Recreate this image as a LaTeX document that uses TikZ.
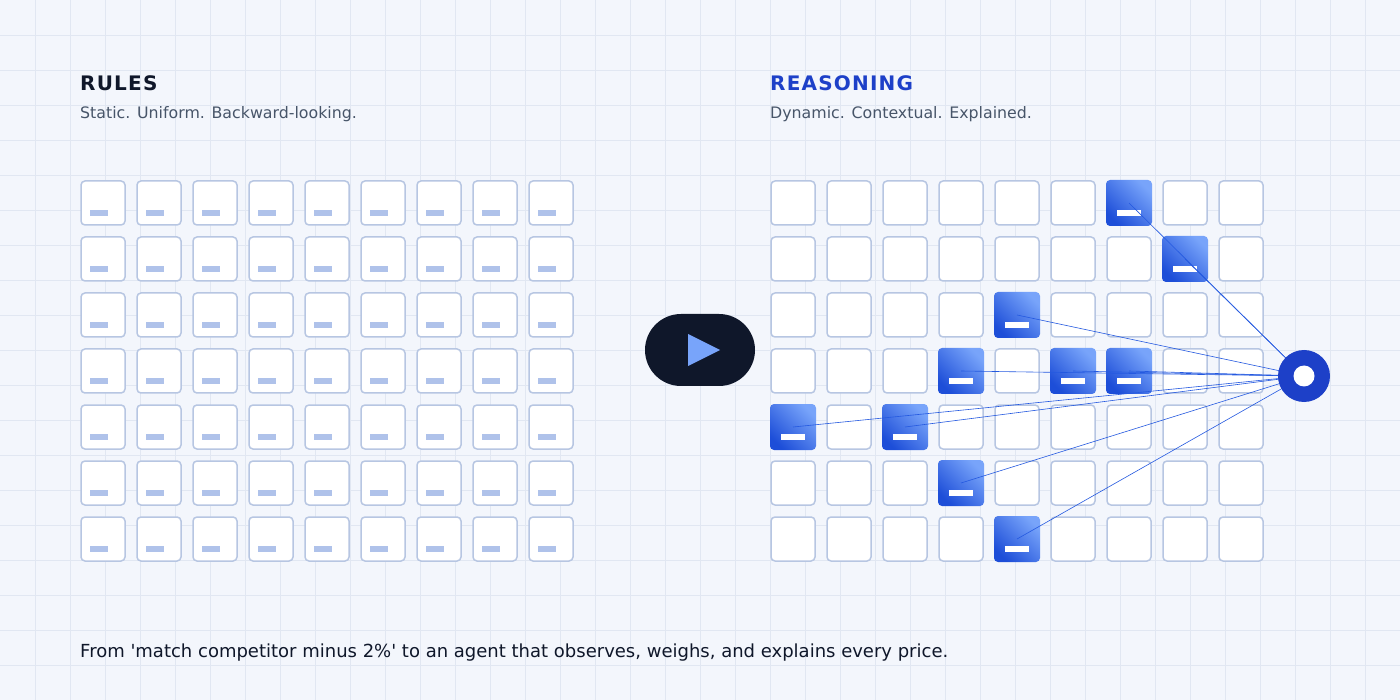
\documentclass[tikz,border=0pt]{standalone}
\usepackage{fontspec}
\setmainfont{DejaVu Sans}
\newfontfamily\plainfont{DejaVu Sans}
\begin{document}
\begin{tikzpicture}[x=1pt,y=-1pt,
 cell/.style={draw=cellb,line width=1.5pt,fill=white,rounded corners=4pt},
 hot/.style={rounded corners=4pt,left color=hotl,right color=hotd,shading angle=-45},
 conn/.style={draw=linec,line width=0.6pt},
 ttl/.style={anchor=base west,font=\bfseries\fontsize{20}{24}\selectfont\addfontfeatures{LetterSpace=6},inner sep=0},
 sbt/.style={anchor=base west,font=\fontsize{15.8}{18}\selectfont,text=sub,inner sep=0}]
\definecolor{bg}{HTML}{F3F6FC}
\definecolor{gridc}{HTML}{E1E7F2}
\definecolor{cellb}{HTML}{B7C6E2}
\definecolor{barl}{HTML}{AFC2EA}
\definecolor{hotd}{HTML}{1D4ED8}
\definecolor{hotl}{HTML}{78A4FA}
\definecolor{linec}{HTML}{2459E0}
\definecolor{navy}{HTML}{0F172A}
\definecolor{sub}{HTML}{475569}
\definecolor{blu}{HTML}{1D40C8}
\useasboundingbox (0,0) rectangle (1400,700);
\fill[bg] (0,0) rectangle (1400,700);
\foreach \i in {1,...,39} \draw[gridc,line width=0.7pt] (\i*35,0) -- (\i*35,700);
\foreach \j in {1,...,19} \draw[gridc,line width=0.7pt] (0,\j*35) -- (1400,\j*35);
\node[ttl,text=navy] (t1) at (80,91) {RULES};
\node[sbt] (s1) at (80,119) {Static. Uniform. Backward-looking.};
\node[ttl,text=blu] (t2) at (770,91) {REASONING};
\node[sbt] (s2) at (770,119) {Dynamic. Contextual. Explained.};
\node[anchor=base west,font=\plainfont\fontsize{18}{21}\selectfont,text=navy,inner sep=0] (ft) at (80,657) {From 'match competitor minus 2\%' to an agent that observes, weighs, and explains every price.};
% left grid
\foreach \c in {0,...,8} \foreach \r in {0,...,6} {
  \draw[cell] (81+\c*56,181+\r*56) rectangle ++(44,44);
  \fill[barl] (90+\c*56,210+\r*56) rectangle ++(18,6);
}
% right grid
\foreach \c in {0,...,8} \foreach \r in {0,...,6} {
  \node[cell,minimum size=44pt,inner sep=0] (g\c-\r) at (793+\c*56,203+\r*56) {};
}
\foreach \c/\r in {6/0,7/1,4/2,3/3,5/3,6/3,0/4,2/4,3/5,4/6} {
  \shade[hot] (770+\c*56,180+\r*56) rectangle ++(46,46);
  \fill[white] (781+\c*56,210+\r*56) rectangle ++(24,6);
}
\coordinate (hc) at (1304,376);
\foreach \c/\r in {6/0,7/1,4/2,3/3,5/3,6/3,0/4,2/4,3/5,4/6}
  \draw[conn] (g\c-\r.center) -- (hc);
\fill[blu] (hc) circle (26);
\node[circle,fill=white,minimum size=21pt,inner sep=0] (hub) at (hc) {};
% play button
\node[fill=navy,rounded corners=36pt,minimum width=110pt,minimum height=72pt,inner sep=0] (play) at (700,350) {};
\fill[hotl] (688,334) -- (720,350) -- (688,366) -- cycle;
\end{tikzpicture}
\end{document}
